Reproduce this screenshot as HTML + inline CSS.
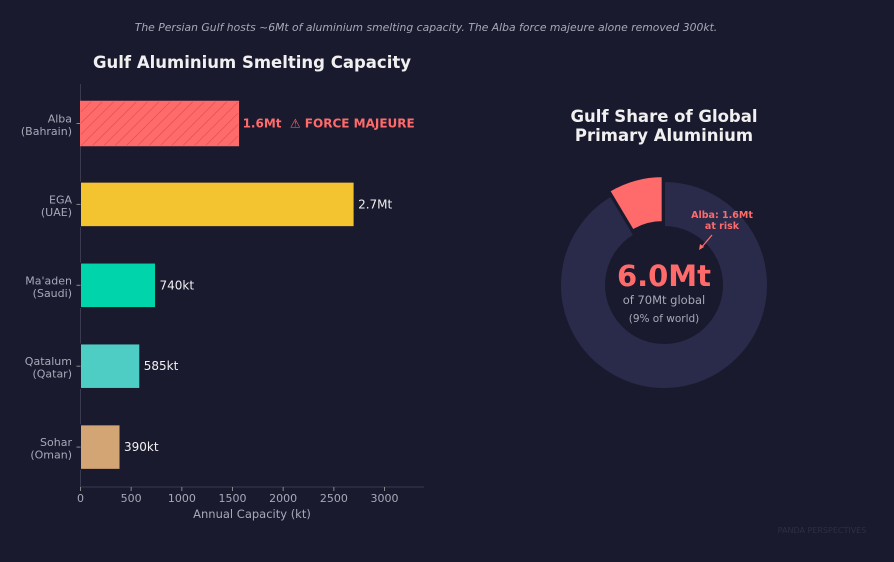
<!DOCTYPE html>
<html><head><meta charset="utf-8"><style>
body{margin:0;background:#1a1a2e;width:894px;height:558px;overflow:hidden;font-family:"DejaVu Sans","Liberation Sans",sans-serif}
</style></head><body>
<svg width="894" height="558" viewBox="0 0 894 558" xmlns="http://www.w3.org/2000/svg">
<defs>
<pattern id="hatch" width="8" height="8" patternUnits="userSpaceOnUse" patternTransform="rotate(45)">
<rect width="8" height="8" fill="#ff6b6b"/><line x1="0" y1="0" x2="0" y2="8" stroke="#e04848" stroke-width="1.2"/>
</pattern>
</defs>
<rect width="894" height="558" fill="#1a1a2e"/>
<text x="426" y="31" fill="#a8a8b8" font-size="10.8" font-style="italic" text-anchor="middle">The Persian Gulf hosts ~6Mt of aluminium smelting capacity. The Alba force majeure alone removed 300kt.</text>
<text x="252" y="68" fill="#f0f0f0" font-size="16.5" font-weight="bold" text-anchor="middle">Gulf Aluminium Smelting Capacity</text>
<g id="bars"></g>
<g id="donut"></g>
<text x="664" y="122" fill="#f0f0f0" font-size="16.5" font-weight="bold" text-anchor="middle">Gulf Share of Global</text>
<text x="664" y="141" fill="#f0f0f0" font-size="16.5" font-weight="bold" text-anchor="middle">Primary Aluminium</text>
<text x="822" y="533" fill="#2e2e44" font-size="8" text-anchor="middle">PANDA PERSPECTIVES</text>
</svg>
<script>
const categories=["Alba\n(Bahrain)","EGA\n(UAE)","Ma'aden\n(Saudi)","Qatalum\n(Qatar)","Sohar\n(Oman)"];
const capacities=[1560,2700,740,585,390];
const valueLabels=["1.6Mt  ⚠ FORCE MAJEURE","2.7Mt","740kt","585kt","390kt"];
const colors=["url(#hatch)","#f4c430","#00d4aa","#4ecdc4","#d4a574"];
const xTicks=[0,500,1000,1500,2000,2500,3000];
const gulfTotal=6.0, globalTotal=70;
const NS="http://www.w3.org/2000/svg";
function mk(t,a,p){const e=document.createElementNS(NS,t);for(const k in a)e.setAttribute(k,a[k]);p.appendChild(e);return e;}
const g=document.getElementById('bars');
const x0=80.5,x1=424;
function X(v){return x0+v*(304/3000);}
function Yc(i){return 123.5+i*80.9;}
mk('line',{x1:x0,y1:84,x2:x0,y2:487,stroke:'#3a3a50','stroke-width':1},g);
mk('line',{x1:x0,y1:487,x2:x1,y2:487,stroke:'#3a3a50','stroke-width':1},g);
xTicks.forEach(t=>{
  mk('line',{x1:X(t),y1:487,x2:X(t),y2:491,stroke:'#888','stroke-width':1},g);
  const tx=mk('text',{x:X(t),y:502,fill:'#a8a8b8','font-size':11,'text-anchor':'middle'},g);tx.textContent=t;
  
  
});
const xt=mk('text',{x:252,y:518,fill:'#a8a8b8','font-size':11.5,'text-anchor':'middle'},g);xt.textContent='Annual Capacity (kt)';


capacities.forEach((v,i)=>{
  const yc=Yc(i),h=44.5;
  const r=mk('rect',{x:x0,y:yc-h/2,width:X(v)-x0,height:h,fill:colors[i],stroke:i==0?'#ff6b6b':'#1a1a2e','stroke-width':1},g);
  
  
  const lines=categories[i].split('\n');
  lines.forEach((l,j)=>{const t=mk('text',{x:72,y:yc-1+j*12.5,fill:'#a8a8b8','font-size':11,'text-anchor':'end'},g);t.textContent=l;
    
    });
  mk('line',{x1:x0-4,y1:yc,x2:x0,y2:yc,stroke:'#888'},g);
  const vt=mk('text',{x:X(v)+4,y:yc+4,fill:i==0?'#ff6b6b':'#f0f0f0','font-size':12,'font-weight':i==0?'bold':'normal'},g);
  vt.textContent=valueLabels[i];vt.setAttribute('xml:space','preserve');vt.style.whiteSpace='pre';
  
  
});
const d=document.getElementById('donut');
const cx=664,cy=285,R=104,r0=58;
function arc(a0,a1,ox,oy){
  const p=(a,rad)=>[cx+ox+rad*Math.cos(a),cy+oy-rad*Math.sin(a)];
  const [x1,y1]=p(a0,R),[x2,y2]=p(a1,R),[x3,y3]=p(a1,r0),[x4,y4]=p(a0,r0);
  const lg=(a1-a0)>Math.PI?1:0;
  return `M${x1},${y1} A${R},${R} 0 ${lg} 0 ${x2},${y2} L${x3},${y3} A${r0},${r0} 0 ${lg} 1 ${x4},${y4}Z`;
}
const frac=gulfTotal/globalTotal;
const a0=Math.PI/2,a1=a0+frac*2*Math.PI;
const rest=mk('path',{d:arc(a1,a0+2*Math.PI,0,0),fill:'#2a2a4a',stroke:'#1a1a2e','stroke-width':2},d);


const am=(a0+a1)/2,off=5;
const gs=mk('path',{d:arc(a0,a1,off*Math.cos(am),-off*Math.sin(am)),fill:'#ff6b6b',stroke:'#1a1a2e','stroke-width':2},d);


const c1=mk('text',{x:cx,y:286,fill:'#ff6b6b','font-size':29,'font-weight':'bold','text-anchor':'middle'},d);c1.textContent=gulfTotal.toFixed(1)+'Mt';


const c2=mk('text',{x:cx,y:304,fill:'#a8a8b8','font-size':11.5,'text-anchor':'middle'},d);c2.textContent='of '+globalTotal+'Mt global';


const c3=mk('text',{x:cx,y:322,fill:'#a8a8b8','font-size':10.5,'text-anchor':'middle'},d);c3.textContent='(9% of world)';


const an1=mk('text',{x:722,y:218,fill:'#ff6b6b','font-size':9.5,'font-weight':'bold','text-anchor':'middle'},d);an1.textContent='Alba: 1.6Mt';


const an2=mk('text',{x:722,y:229,fill:'#ff6b6b','font-size':9.5,'font-weight':'bold','text-anchor':'middle'},d);an2.textContent='at risk';


const ar=mk('line',{x1:712,y1:235,x2:701,y2:248,stroke:'#ff6b6b','stroke-width':1.3},d);


mk('path',{d:'M699,250 L700,244 L704,247Z',fill:'#ff6b6b'},d);
</script>
</body></html>
